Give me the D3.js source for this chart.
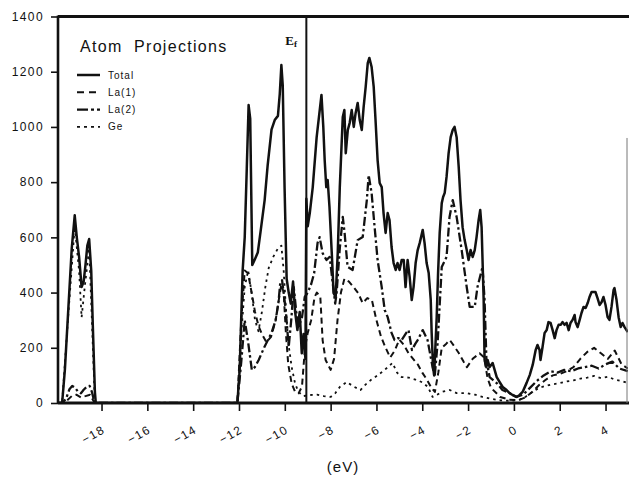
<!DOCTYPE html>
<html>
<head>
<meta charset="utf-8">
<script src="https://d3js.org/d3.v7.min.js"></script>
<style>
    body { margin: 0; background: #fff; }
    svg text { font-family: "Liberation Sans", Arial, sans-serif; fill: #111; }
</style>
</head>
<body>
<div id="grafik"></div>

<script>
    // Density of states, atom projections (energy in eV, DOS)
    var total = [[-19.9,0],[-19.72,0],[-19.6,120],[-19.45,340],[-19.3,560],[-19.17,680],[-19.08,600],[-18.98,530],[-18.87,420],[-18.78,440],[-18.7,500],[-18.62,570],[-18.54,594],[-18.45,480],[-18.38,280],[-18.29,40],[-18.25,0],[-12.07,0],
        [-11.97,120],[-11.84,480],[-11.75,600],[-11.66,850],[-11.58,1079],[-11.51,1030],[-11.42,500],[-11.31,520],[-11.18,545],[-11.06,620],[-10.88,735],[-10.75,860],[-10.58,990],[-10.44,1025],[-10.30,1040],[-10.22,1120],[-10.15,1224],[-10.09,1150],[-10.01,780],[-9.92,450],[-9.83,400],[-9.74,360],[-9.64,440],[-9.55,330],[-9.45,264],[-9.35,330],[-9.26,180],[-9.18,250],[-9.10,160],[-9.06,740],[-9.00,640],[-8.91,688],[-8.78,782],[-8.61,963],[-8.40,1116],[-8.32,1000],[-8.26,880],[-8.19,782],[-8.13,808],[-8.05,710],[-7.95,543],[-7.87,398],[-7.78,384],[-7.69,543],[-7.60,782],[-7.47,1036],[-7.40,1061],[-7.34,905],[-7.25,989],[-7.17,1014],[-7.08,1061],[-6.99,1000],[-6.91,1050],[-6.82,1087],[-6.73,1025],[-6.64,989],[-6.56,1072],[-6.47,1145],[-6.38,1231],[-6.31,1250],[-6.21,1217],[-6.12,1145],[-6.04,1025],[-5.95,880],[-5.86,797],[-5.77,782],[-5.69,688],[-5.60,616],[-5.51,688],[-5.43,663],[-5.34,565],[-5.25,507],[-5.16,482],[-5.08,507],[-4.99,482],[-4.90,518],[-4.81,518],[-4.73,420],[-4.64,518],[-4.55,456],[-4.46,373],[-4.38,420],[-4.29,507],[-4.20,554],[-4.11,580],[-3.98,627],[-3.90,580],[-3.81,507],[-3.72,471],[-3.63,373],[-3.59,254],[-3.53,130],[-3.48,100],[-3.44,181],[-3.37,311],[-3.31,471],[-3.24,616],[-3.15,724],[-3.09,746],[-3.02,761],[-2.94,819],[-2.85,905],[-2.76,963],[-2.67,989],[-2.59,1000],[-2.50,963],[-2.41,855],[-2.33,735],[-2.24,637],[-2.15,590],[-2.06,554],[-1.98,518],[-1.89,554],[-1.80,529],[-1.71,554],[-1.63,601],[-1.54,663],[-1.47,699],[-1.41,637],[-1.32,373],[-1.28,156],[-1.20,130],[-1.15,156],[-1.06,130],[-0.93,145],[-0.75,94],[-0.62,76],[-0.49,58],[-0.32,47],[-0.19,36],[-0.06,29],[0.12,22],[0.25,29],[0.38,40],[0.55,72],[0.69,101],[0.82,138],[0.95,192],[1.03,210],[1.12,192],[1.16,156],[1.25,203],[1.34,254],[1.43,264],[1.51,293],[1.60,290],[1.69,264],[1.78,235],[1.86,264],[1.95,283],[2.04,283],[2.12,293],[2.21,283],[2.30,290],[2.39,264],[2.47,290],[2.56,301],[2.65,319],[2.69,293],[2.78,275],[2.87,301],[2.95,326],[3.04,348],[3.13,344],[3.22,362],[3.30,384],[3.39,402],[3.48,402],[3.56,402],[3.65,380],[3.74,355],[3.83,366],[3.91,384],[4.00,355],[4.09,311],[4.17,301],[4.26,348],[4.35,409],[4.39,416],[4.48,373],[4.57,311],[4.66,275],[4.74,290],[4.83,275],[4.97,257]];

    var la1 = [[-19.9,0],[-19.72,0],[-19.5,10],[-19.3,25],[-19.1,30],[-18.9,20],[-18.7,25],[-18.5,30],[-18.3,0],[-12.07,0],
        [-11.9,300],[-11.75,480],[-11.6,470],[-11.45,400],[-11.3,330],[-11.15,280],[-11.0,250],[-10.8,220],[-10.6,240],[-10.4,300],[-10.25,380],[-10.15,430],[-10.05,400],[-9.95,250],[-9.85,140],[-9.7,70],[-9.55,40],[-9.4,35],[-9.25,60],[-9.12,200],[-9.0,254],[-8.85,300],[-8.7,384],[-8.6,400],[-8.45,384],[-8.35,228],[-8.22,156],[-8.0,120],[-7.85,160],[-7.7,300],[-7.55,400],[-7.4,450],[-7.2,440],[-7.0,420],[-6.8,398],[-6.6,362],[-6.4,380],[-6.2,373],[-6.0,300],[-5.8,240],[-5.6,200],[-5.4,165],[-5.2,190],[-5.0,230],[-4.8,210],[-4.6,180],[-4.4,160],[-4.2,140],[-4.0,110],[-3.8,85],[-3.6,55],[-3.45,40],[-3.3,110],[-3.15,200],[-2.95,215],[-2.8,228],[-2.6,205],[-2.4,180],[-2.2,150],[-2.05,130],[-1.8,160],[-1.5,180],[-1.3,165],[-1.15,90],[-1.0,55],[-0.6,22],[-0.2,12],[0.2,10],[0.5,20],[0.8,40],[1.1,65],[1.4,85],[1.7,100],[2.0,105],[2.3,115],[2.6,130],[2.9,160],[3.2,185],[3.5,200],[3.8,180],[4.1,160],[4.4,190],[4.7,140],[4.97,125]];

    var la2 = [[-19.9,0],[-19.72,0],[-19.55,15],[-19.4,50],[-19.28,62],[-19.15,55],[-19.02,40],[-18.9,35],[-18.78,48],[-18.65,58],[-18.52,62],[-18.42,40],[-18.3,0],[-12.07,0],
        [-11.9,150],[-11.75,300],[-11.6,220],[-11.44,120],[-11.31,130],[-11.14,156],[-10.89,203],[-10.58,254],[-10.4,300],[-10.28,362],[-10.2,434],[-10.12,445],[-10.02,380],[-9.95,326],[-9.83,203],[-9.72,300],[-9.61,420],[-9.5,330],[-9.38,280],[-9.25,310],[-9.13,384],[-9.0,400],[-8.85,430],[-8.72,470],[-8.57,580],[-8.48,601],[-8.35,543],[-8.18,518],[-8.04,529],[-7.91,435],[-7.80,360],[-7.74,398],[-7.6,560],[-7.47,674],[-7.39,616],[-7.26,493],[-7.04,482],[-6.82,590],[-6.60,601],[-6.42,735],[-6.34,826],[-6.21,760],[-6.08,637],[-5.95,518],[-5.77,420],[-5.64,337],[-5.51,311],[-5.34,254],[-5.21,228],[-5.05,235],[-4.90,228],[-4.7,254],[-4.6,264],[-4.45,192],[-4.3,215],[-4.2,228],[-3.98,264],[-3.77,228],[-3.55,130],[-3.46,94],[-3.33,217],[-3.15,493],[-2.94,529],[-2.81,674],[-2.67,735],[-2.5,674],[-2.28,554],[-2.06,420],[-1.93,348],[-1.71,348],[-1.59,420],[-1.37,493],[-1.28,373],[-1.2,156],[-1.06,94],[-0.75,72],[-0.5,47],[-0.2,36],[0.1,22],[0.4,30],[0.7,55],[1.0,80],[1.3,100],[1.6,115],[1.9,110],[2.2,120],[2.5,115],[2.8,125],[3.1,130],[3.4,135],[3.7,125],[4.0,140],[4.3,150],[4.6,125],[4.97,115]];

    var ge = [[-19.9,0],[-19.72,0],[-19.45,320],[-19.17,640],[-18.98,480],[-18.87,310],[-18.72,430],[-18.54,560],[-18.42,300],[-18.29,0],[-12.07,0],
        [-11.9,250],[-11.75,420],[-11.6,480],[-11.45,400],[-11.3,300],[-11.15,260],[-11.0,330],[-10.85,420],[-10.7,490],[-10.5,530],[-10.3,560],[-10.15,570],[-10.05,480],[-9.95,340],[-9.85,220],[-9.7,130],[-9.55,70],[-9.4,40],[-9.2,25],[-8.9,29],[-8.6,30],[-8.3,25],[-8.0,22],[-7.8,35],[-7.6,58],[-7.3,76],[-7.0,60],[-6.7,47],[-6.5,65],[-6.25,83],[-5.95,100],[-5.64,120],[-5.3,145],[-5.1,110],[-4.9,94],[-4.6,92],[-4.3,85],[-4.0,75],[-3.75,58],[-3.55,22],[-3.35,30],[-3.15,40],[-2.8,47],[-2.5,36],[-2.06,36],[-1.7,30],[-1.37,22],[-1.0,15],[-0.6,10],[-0.2,8],[0.2,10],[0.5,22],[0.8,40],[1.1,55],[1.4,62],[1.7,68],[2.0,72],[2.3,78],[2.6,82],[2.9,88],[3.2,92],[3.5,98],[3.8,90],[4.1,95],[4.4,85],[4.7,80],[4.97,72]];

    var seriesNames = ["Total", "La(1)", "La(2)", "Ge"];
    var fermiEnergy = -9.06;
    var xTicks = [-18, -16, -14, -12, -10, -8, -6, -4, -2, 0, 2, 4];
    var yTicks = [0, 200, 400, 600, 800, 1000, 1200, 1400];

    var W = 629, H = 477;
    var margin = { top: 16.5, right: 1, bottom: 74, left: 58 };

    var svg = d3.select("#grafik")
        .append("svg")
        .attr("width", W)
        .attr("height", H);

    var xScale = d3.scaleLinear()
        .domain([-19.9, 4.98])
        .range([margin.left, W - margin.right]);

    var yScale = d3.scaleLinear()
        .domain([0, 1400])
        .range([H - margin.bottom, margin.top]);

    var styles = [
        { data: total, width: 2.5, dash: null },
        { data: la1, width: 2, dash: "6,4" },
        { data: la2, width: 2.3, dash: "9,3,2.5,3" },
        { data: ge, width: 1.8, dash: "2.5,4" }
    ];

    svg.append("clipPath").attr("id", "plotclip")
        .append("rect")
        .attr("x", xScale(-19.9)).attr("y", yScale(1400))
        .attr("width", xScale(4.98) - xScale(-19.9))
        .attr("height", yScale(0) - yScale(1400));

    var line = d3.line()
        .x(function(d) { return xScale(d[0]); })
        .y(function(d) { return yScale(d[1]); });

    var plot = svg.append("g").attr("clip-path", "url(#plotclip)");

    // draw dotted first, total on top
    [3, 1, 2, 0].forEach(function(i) {
        plot.append("path")
            .attr("d", line(styles[i].data))
            .attr("fill", "none")
            .attr("stroke", "#111")
            .attr("stroke-width", styles[i].width)
            .attr("stroke-linejoin", "round")
            .attr("stroke-dasharray", styles[i].dash);
    });

    // Fermi level
    svg.append("line")
        .attr("x1", xScale(fermiEnergy)).attr("x2", xScale(fermiEnergy))
        .attr("y1", yScale(1400)).attr("y2", yScale(0))
        .attr("stroke", "#111").attr("stroke-width", 2);

    var ef = svg.append("text")
        .attr("x", xScale(fermiEnergy) - 21)
        .attr("y", 45)
        .style("font-family", "'Liberation Serif', serif")
        .style("font-weight", "bold")
        .style("font-size", "13px");
    ef.append("tspan").text("E");
    ef.append("tspan").attr("dy", 2).style("font-size", "9px").text("f");

    // Y axis
    var yAxis = d3.axisLeft(yScale).tickValues(yTicks).tickFormat(d3.format("d")).tickSize(7).tickPadding(7);
    var gy = svg.append("g")
        .attr("transform", "translate(" + margin.left + ",0)")
        .call(yAxis);
    gy.select(".domain").remove();
    gy.selectAll(".tick line").attr("stroke", "#111").attr("stroke-width", 1.6);
    gy.selectAll("text").style("font-size", "12px").style("letter-spacing", "1.4px");

    // X axis
    var xAxis = d3.axisBottom(xScale).tickValues(xTicks).tickSize(8);
    var gx = svg.append("g")
        .attr("transform", "translate(0," + yScale(0) + ")")
        .call(xAxis);
    gx.select(".domain").remove();
    gx.selectAll(".tick line").attr("stroke", "#111").attr("stroke-width", 1.6);
    gx.selectAll("text")
        .attr("x", 0).attr("y", 0).attr("dy", 0)
        .attr("text-anchor", "end")
        .attr("transform", "translate(4,29) rotate(-30)")
        .style("font-size", "12px")
        .style("letter-spacing", "1.4px");

    // frame: left, bottom, top
    svg.append("line")
        .attr("x1", margin.left).attr("x2", margin.left)
        .attr("y1", yScale(1400) - 1).attr("y2", yScale(0) + 1)
        .attr("stroke", "#111").attr("stroke-width", 2.6);
    svg.append("line")
        .attr("x1", margin.left).attr("x2", W)
        .attr("y1", yScale(0)).attr("y2", yScale(0))
        .attr("stroke", "#111").attr("stroke-width", 3);
    svg.append("line")
        .attr("x1", margin.left).attr("x2", W)
        .attr("y1", yScale(1400)).attr("y2", yScale(1400))
        .attr("stroke", "#111").attr("stroke-width", 3);
    svg.append("line")
        .attr("x1", xScale(4.98) - 1).attr("x2", xScale(4.98) - 1)
        .attr("y1", yScale(960)).attr("y2", yScale(0))
        .attr("stroke", "#777").attr("stroke-width", 1);

    // x label
    svg.append("text")
        .attr("x", 343).attr("y", 472)
        .attr("text-anchor", "middle")
        .style("font-size", "15px")
        .style("letter-spacing", "1px")
        .text("(eV)");

    // legend
    svg.append("text")
        .attr("x", 80).attr("y", 52)
        .style("font-size", "16px")
        .style("letter-spacing", "1.3px")
        .style("white-space", "pre")
        .text("Atom  Projections");

    var legend = svg.append("g").attr("transform", "translate(77,75)");
    seriesNames.forEach(function(name, i) {
        legend.append("line")
            .attr("x1", 0).attr("x2", 23)
            .attr("y1", i * 17.3).attr("y2", i * 17.3)
            .attr("stroke", "#111")
            .attr("stroke-width", styles[i].width)
            .attr("stroke-dasharray", i === 0 ? null : (i === 1 ? "7,5" : (i === 2 ? "11,3,3,3" : "3,4")));
        legend.append("text")
            .attr("x", 31).attr("y", i * 17.3 + 3.5)
            .style("font-size", "10px")
            .style("letter-spacing", "1px")
            .text(name);
    });
</script>
</body>
</html>
